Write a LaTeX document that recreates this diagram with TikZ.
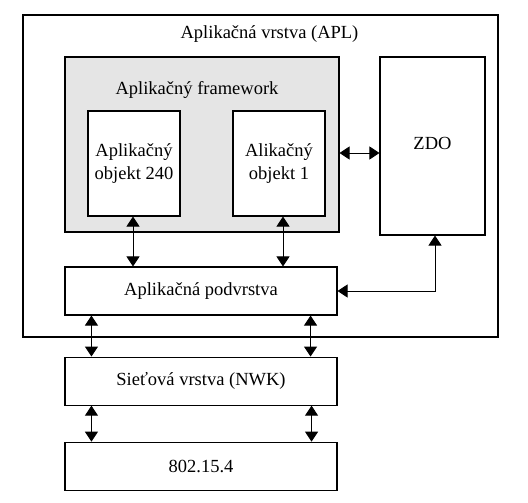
\documentclass[tikz,border=0pt]{standalone}
\usepackage{fontspec}
\setmainfont{Liberation Serif}
\usetikzlibrary{arrows.meta,calc,positioning}

\begin{document}
\begin{tikzpicture}[x=1pt,y=-1pt,font=\fontsize{18.5}{23}\selectfont,
  box/.style={draw=black,line width=1.1pt,rectangle,inner sep=0pt,align=center},
  link/.style={line width=0.9pt,{Triangle[length=10pt,width=13pt]}-{Triangle[length=10pt,width=13pt]}}]
  \useasboundingbox (0,0) rectangle (528,503);
  \node[box,minimum width=475pt,minimum height=322pt] at (260.5,176) (apl){};
  \node[anchor=north] at ($(apl.north)+(9,8)$) {Aplikačná vrstva (APL)};
  \node[box,fill=black!10,minimum width=274pt,minimum height=175pt] at (202,144.5) (fw){};
  \node at (197,90) {Aplikačný framework};
  \node[box,fill=white,minimum width=92pt,minimum height=105pt] at (134,163.5) (obja){Aplikačný\\objekt 240};
  \node[box,fill=white,minimum width=92pt,minimum height=105pt] at (279,163.5) (objb){\raisebox{5pt}{\begin{tabular}{@{}c@{}}Alikačný\\objekt 1\end{tabular}}};
  \node[box,minimum width=105pt,minimum height=178pt] at (432.5,146) (zdo){\raisebox{6pt}{ZDO}};
  \node[box,minimum width=272pt,minimum height=48pt] at (201,291) (aps){Aplikačná podvrstva};
  \node[box,minimum width=272pt,minimum height=48pt,below=41pt of aps] (nwk){Sieťová vrstva (NWK)};
  \node[box,minimum width=272pt,minimum height=48pt,below=36pt of nwk] (mac){802.15.4};
  \draw[link] ([yshift=-8.5pt]fw.east) -- ([yshift=-8.5pt]fw.east -| zdo.west);
  \draw[link] ([xshift=-1pt]obja.south) -- ([xshift=-1pt]obja.south |- aps.north);
  \draw[link] ([xshift=4pt]objb.south) -- ([xshift=4pt]objb.south |- aps.north);
  \draw[link] ([xshift=2.5pt]zdo.south) |- (aps.east);
  \draw[link] ([xshift=27pt]aps.south west) -- ([xshift=27pt]aps.south west |- nwk.north);
  \draw[link] ([xshift=-27pt]aps.south east) -- ([xshift=-27pt]aps.south east |- nwk.north);
  \draw[link] ([xshift=27pt]nwk.south west) -- ([xshift=27pt]nwk.south west |- mac.north);
  \draw[link] ([xshift=-26pt]nwk.south east) -- ([xshift=-26pt]nwk.south east |- mac.north);
\end{tikzpicture}
\end{document}
